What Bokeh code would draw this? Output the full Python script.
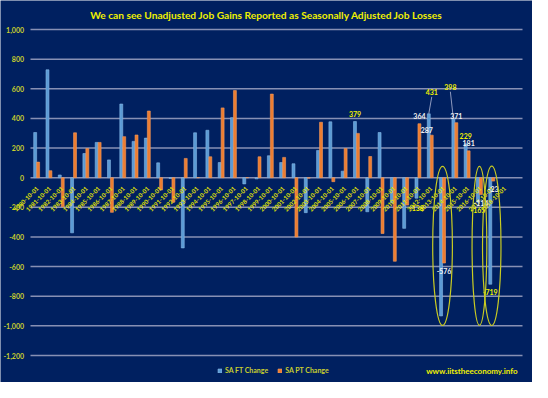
import math
from bokeh.plotting import figure
from bokeh.models import ColumnDataSource, Label, Legend, LegendItem, Range1d
from bokeh.transform import dodge
from bokeh.core.properties import value
from bokeh.embed import file_html
from bokeh.resources import INLINE

# ---------------- data ----------------
categories = ["1980-10-01", "1981-10-01", "1982-10-01", "1983-10-01", "1984-10-01",
              "1985-10-01", "1986-10-01", "1987-10-01", "1988-10-01", "1989-10-01",
              "1990-10-01", "1991-10-01", "1992-10-01", "1993-10-01", "1994-10-01",
              "1995-10-01", "1996-10-01", "1997-10-01", "1998-10-01", "1999-10-01",
              "2000-10-01", "2001-10-01", "2002-10-01", "2003-10-01", "2004-10-01",
              "2005-10-01", "2006-10-01", "2007-10-01", "2008-10-01", "2009-10-01",
              "2010-10-01", "2011-10-01", "2012-10-01", "2013-10-01", "2014-10-01",
              "2015-10-01", "2016-10-01", "2017-10-01", "2018-10-01"]

sa_ft_change = [305, 728, 18, -372, 163, 238, 120, 497, 245, 267,
                100, -5, -474, 303, 320, 102, 405, -42, -8, 148,
                102, 94, -236, 184, 377, 44, 379, -230, 305, -170,
                -342, -138, 431, -933, 398, 229, -165, -719]

sa_pt_change = [105, 47, -197, 303, 197, 238, -234, 277, 288, 450,
                -83, -165, 130, 0, 141, 471, 588, 0, 141, 564,
                137, -400, -3, 374, -27, 197, 299, 143, -377, -564,
                -185, 364, 287, -576, 371, 181, -114, -23]

y_ticks = [-1200, -1000, -800, -600, -400, -200, 0, 200, 400, 600, 800, 1000]

# which bars carry a value label
ft_labelled = ["2006-10-01", "2011-10-01", "2012-10-01", "2014-10-01",
               "2015-10-01", "2016-10-01", "2017-10-01"]
pt_labelled = ["2011-10-01", "2012-10-01", "2013-10-01", "2014-10-01",
               "2015-10-01", "2016-10-01", "2017-10-01"]
circled = ["2013-10-01", "2016-10-01", "2017-10-01"]

# ---------------- style ----------------
NAVY = "#002060"
GRID = "#8790B4"
BLUE = "#5B9BD5"
BLUE_EDGE = "#86B8E6"
ORANGE = "#ED7D31"
ORANGE_EDGE = "#F39A5E"
TITLE_YEL = "#F0F000"
TICK_YEL = "#C9CF2E"
CAT_YEL = "#E2E400"
FONT = "Lato"

W, H = 532, 382
LEFT, RIGHT, TOP, BOTTOM = 30, 10, 29, 27      # space around the gridded area
GRID_W = W - LEFT - RIGHT
GRID_H = H - TOP - BOTTOM
X_LO, X_HI = -0.5, 39.5
PX_X = GRID_W / (X_HI - X_LO)
PX_Y = GRID_H / (y_ticks[-1] - y_ticks[0])

p = figure(width=W, height=H, output_backend="svg", toolbar_location=None,
           x_range=Range1d(X_LO - LEFT / PX_X, X_HI + RIGHT / PX_X),
           y_range=Range1d(y_ticks[0] - BOTTOM / PX_Y, y_ticks[-1] + TOP / PX_Y),
           x_axis_location=None, y_axis_location=None,
           min_border=0,
           background_fill_color=NAVY, border_fill_color=NAVY, outline_line_color=None)
p.xgrid.visible = False
p.ygrid.visible = False

# horizontal gridlines and their labels
p.segment(x0=[X_LO] * len(y_ticks), x1=[X_HI] * len(y_ticks), y0=y_ticks, y1=y_ticks,
          line_color=GRID, line_width=1.5)
p.text(x=[X_LO] * len(y_ticks), y=y_ticks, text=[f"{t:,}" for t in y_ticks],
       x_offset=-6.5, text_align="right", text_baseline="middle",
       text_font=value(FONT), text_font_style="bold", text_font_size="7px",
       text_color=TICK_YEL)

idx = list(range(len(sa_ft_change)))
src = ColumnDataSource(dict(x=idx, ft=sa_ft_change, pt=sa_pt_change))
r_ft = p.vbar(x=dodge("x", -0.12), top="ft", bottom=0, width=0.24, source=src,
              fill_color=BLUE, line_color=BLUE_EDGE, line_width=0.6)
r_pt = p.vbar(x=dodge("x", 0.12), top="pt", bottom=0, width=0.24, source=src,
              fill_color=ORANGE, line_color=ORANGE_EDGE, line_width=0.6)

# category labels sitting under the zero line, rotated
cat_src = ColumnDataSource(dict(x=list(range(len(categories))),
                                y=[0] * len(categories), t=categories))
p.text(x="x", y="y", text="t", source=cat_src, angle=math.pi / 4,
       text_align="right", text_baseline="middle", x_offset=1, y_offset=10,
       text_font=value(FONT), text_font_style="bold", text_font_size="6px",
       text_color=CAT_YEL)

# value labels  (special pixel offsets for a few labels: (dx, dy))
special = {("ft", "2012-10-01"): (3, -22), ("ft", "2014-10-01"): (-3, -32),
           ("pt", "2012-10-01"): (-5, -5), ("pt", "2014-10-01"): (0, -7),
           ("ft", "2011-10-01"): (0, 10)}
lab = dict(x=[], y=[], t=[], dx=[], dy=[], c=[])
leaders = dict(x0=[], y0=[], x1=[], y1=[])
for key, names, vals, off, col in (("ft", ft_labelled, sa_ft_change, -0.12, TITLE_YEL),
                                   ("pt", pt_labelled, sa_pt_change, 0.12, "#F2F2F2")):
    for nm in names:
        i = categories.index(nm)
        v = vals[i]
        dx, dy = special.get((key, nm), (0, -8 if v >= 0 else 8))
        lab["x"].append(i + off)
        lab["y"].append(v)
        lab["t"].append(f"{v:,}")
        lab["dx"].append(dx)
        lab["dy"].append(dy)
        lab["c"].append(col)
        if dy < -15:
            leaders["x0"].append(i + off)
            leaders["y0"].append(v)
            leaders["x1"].append(i + off + dx / PX_X)
            leaders["y1"].append(v + (-dy - 5) / PX_Y)

p.segment(x0="x0", y0="y0", x1="x1", y1="y1", source=ColumnDataSource(leaders),
          line_color="#8E99BE", line_width=1)
p.text(x="x", y="y", text="t", x_offset="dx", y_offset="dy", text_color="c",
       source=ColumnDataSource(lab), text_align="center", text_baseline="middle",
       text_font=value(FONT), text_font_style="bold", text_font_size="7px")

# highlight ellipses
ell_x = [categories.index(c) for c in circled]
ell_w = [1.6, 1.2, 1.5]
p.ellipse(x=ell_x, y=[-460] * len(ell_x), width=ell_w, height=[1075] * len(ell_x),
          fill_color=None, line_color="#C9CC22", line_width=1.2)

# title (screen units measured from the bottom-left of the frame = figure)
p.add_layout(Label(x=266, y=H - 14.5, x_units="screen", y_units="screen",
                   text="We can see Unadjusted Job Gains Reported as Seasonally Adjusted Job Losses",
                   text_align="center", text_baseline="middle", text_color=TITLE_YEL,
                   text_font=FONT, text_font_style="bold", text_font_size="10.2px"))

# legend
legend = Legend(items=[LegendItem(label="SA FT Change", renderers=[r_ft]),
                       LegendItem(label="SA PT Change", renderers=[r_pt])],
                orientation="horizontal", location=(217, 8),
                glyph_width=5, glyph_height=5, label_standoff=3, spacing=9,
                padding=0, margin=0, label_height=7,
                label_text_font=FONT, label_text_font_style="bold",
                label_text_font_size="7px", label_text_color=TICK_YEL,
                background_fill_alpha=0, border_line_alpha=0)
p.add_layout(legend)

p.add_layout(Label(x=517, y=11.5, x_units="screen", y_units="screen",
                   text="www.iitstheeconomy.info", text_align="right",
                   text_baseline="middle", text_color=TITLE_YEL, text_font=FONT,
                   text_font_style="bold", text_font_size="8px"))

open("out.html", "w").write(file_html(p, INLINE))
